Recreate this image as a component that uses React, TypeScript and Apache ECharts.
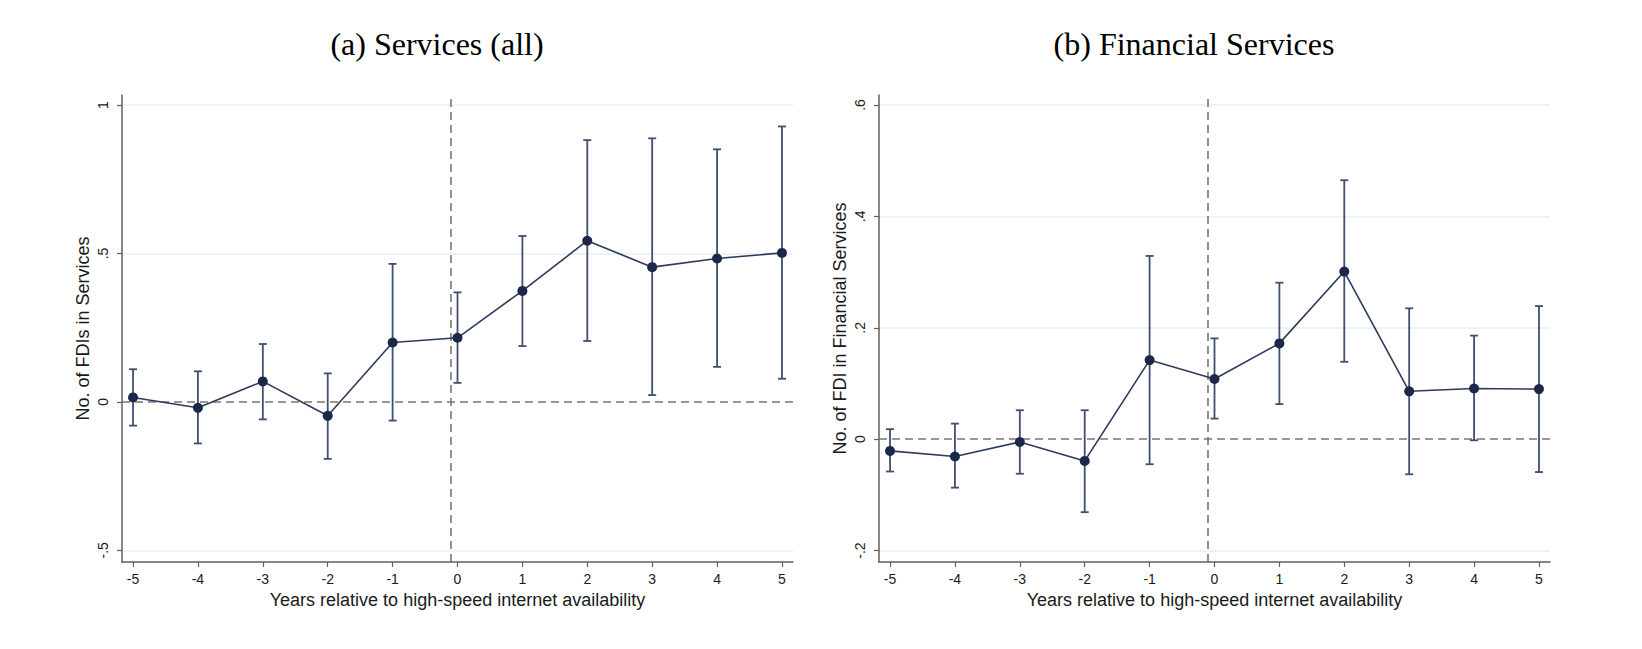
import React, { useEffect, useRef } from "react";
import * as echarts from "echarts";

// ---- Data ----
const years = [-5, -4, -3, -2, -1, 0, 1, 2, 3, 4, 5];

// Panel (a): Services (all)
const servicesEst = [0.015, -0.02, 0.069, -0.047, 0.2, 0.216, 0.374, 0.543, 0.454, 0.483, 0.502];
const servicesLo = [-0.08, -0.14, -0.059, -0.192, -0.063, 0.064, 0.188, 0.205, 0.023, 0.118, 0.078];
const servicesHi = [0.11, 0.103, 0.195, 0.096, 0.465, 0.369, 0.559, 0.882, 0.888, 0.851, 0.928];

// Panel (b): Financial Services
const financialEst = [-0.021, -0.031, -0.005, -0.039, 0.142, 0.108, 0.172, 0.301, 0.086, 0.091, 0.09];
const financialLo = [-0.058, -0.087, -0.062, -0.131, -0.045, 0.037, 0.063, 0.139, -0.063, -0.002, -0.059];
const financialHi = [0.018, 0.028, 0.052, 0.052, 0.329, 0.181, 0.281, 0.465, 0.235, 0.186, 0.239];

const servicesYTicks = [-0.5, 0, 0.5, 1];
const financialYTicks = [-0.2, 0, 0.2, 0.4, 0.6];

const titles = ["(a) Services (all)", "(b) Financial Services"];
const yNames = ["No. of FDIs in Services", "No. of FDI in Financial Services"];
const xName = "Years relative to high-speed internet availability";
const eventLine = -0.1;

// ---- Styles ----
const LINE_COLOR = "#2c3a5c";
const MARKER_COLOR = "#1b2849";
const BAR_COLOR = "#404e70";
const AXIS_COLOR = "#606060";
const GRID_COLOR = "#e6eff1";
const DASH_COLOR = "#777777";
const TEXT_COLOR = "#1a1a1a";
const SANS = "'Liberation Sans', Arial, sans-serif";
const SERIF = "'Liberation Serif', 'Times New Roman', serif";

const fmt = (v: number) => {
  const r = Math.round(v * 10) / 10;
  if (r === 0) return "0";
  let s = String(r);
  s = s.replace(/^0\./, ".").replace(/^-0\./, "-.");
  return s;
};

function errorBarRender(params: any, api: any) {
  const x = api.value(0);
  const lo = api.value(1);
  const hi = api.value(2);
  const p1 = api.coord([x, lo]);
  const p2 = api.coord([x, hi]);
  const cap = 4;
  const style = { stroke: BAR_COLOR, lineWidth: 1.8 };
  return {
    type: "group",
    children: [
      { type: "line", shape: { x1: p1[0], y1: p1[1], x2: p2[0], y2: p2[1] }, style },
      { type: "line", shape: { x1: p1[0] - cap, y1: p1[1], x2: p1[0] + cap, y2: p1[1] }, style },
      { type: "line", shape: { x1: p2[0] - cap, y1: p2[1], x2: p2[0] + cap, y2: p2[1] }, style },
    ],
  };
}

export default function App() {
  const ref = useRef<HTMLDivElement>(null);

  useEffect(() => {
    document.body.style.margin = "0";
    if (!ref.current) return;
    const chart = echarts.init(ref.current, null, { renderer: "svg" });

    const grids = [
      { left: 122, top: 95, width: 671, height: 467 },
      { left: 879, top: 95, width: 671, height: 467 },
    ];
    const yRanges = [
      { min: -0.5395, max: 1.034, ticks: servicesYTicks },
      { min: -0.2205, max: 0.618, ticks: financialYTicks },
    ];
    const panels = [
      { est: servicesEst, lo: servicesLo, hi: servicesHi },
      { est: financialEst, lo: financialLo, hi: financialHi },
    ];

    const xAxis = grids.map((_, i) => ({
      type: "value",
      gridIndex: i,
      min: -5.17,
      max: 5.17,
      name: xName,
      nameLocation: "middle",
      nameGap: 27,
      nameTextStyle: { fontFamily: SANS, fontSize: 18, color: TEXT_COLOR },
      axisLine: { show: true, onZero: false, lineStyle: { color: AXIS_COLOR, width: 1.5 } },
      axisTick: { show: true, length: 5, customValues: years, lineStyle: { color: AXIS_COLOR, width: 1.2 } },
      axisLabel: {
        customValues: years,
        fontFamily: SANS,
        fontSize: 14,
        color: TEXT_COLOR,
        margin: 10,
        formatter: (v: number) => String(v),
      },
      splitLine: { show: false },
    }));

    const yAxis = grids.map((_, i) => ({
      type: "value",
      gridIndex: i,
      min: yRanges[i].min,
      max: yRanges[i].max,
      name: yNames[i],
      nameLocation: "middle",
      nameRotate: 90,
      nameGap: 30,
      nameTextStyle: { fontFamily: SANS, fontSize: 18, color: TEXT_COLOR },
      axisLine: { show: true, onZero: false, lineStyle: { color: AXIS_COLOR, width: 1.5 } },
      axisTick: { show: true, length: 5, customValues: yRanges[i].ticks, lineStyle: { color: AXIS_COLOR, width: 1.2 } },
      axisLabel: {
        customValues: yRanges[i].ticks,
        rotate: 90,
        fontFamily: SANS,
        fontSize: 14,
        color: TEXT_COLOR,
        margin: 12,
        formatter: (v: number) => fmt(v),
      },
      splitLine: { show: false },
    }));

    const series: any[] = [];
    panels.forEach((p, i) => {
      series.push({
        type: "custom",
        xAxisIndex: i,
        yAxisIndex: i,
        z: 1,
        renderItem: errorBarRender,
        encode: { x: 0, y: [1, 2] },
        data: years.map((y, k) => [y, p.lo[k], p.hi[k]]),
        silent: true,
      });
      series.push({
        type: "line",
        xAxisIndex: i,
        yAxisIndex: i,
        z: 3,
        data: years.map((y, k) => [y, p.est[k]]),
        symbol: "circle",
        symbolSize: 10,
        itemStyle: { color: MARKER_COLOR },
        lineStyle: { color: LINE_COLOR, width: 1.6 },
        markLine: {
          silent: true,
          symbol: "none",
          label: { show: false },
          z: 0,
          data: [
            ...yRanges[i].ticks
              .filter((t) => t !== 0)
              .map((t) => ({ yAxis: t, lineStyle: { color: GRID_COLOR, width: 1.5, type: "solid" } })),
            { yAxis: 0, lineStyle: { color: DASH_COLOR, width: 1.6, type: [8, 5] } },
            { xAxis: eventLine, lineStyle: { color: DASH_COLOR, width: 1.6, type: [8, 5] } },
          ],
        },
      });
    });

    chart.setOption({
      animation: false,
      backgroundColor: "#ffffff",
      title: [
        {
          text: titles[0],
          left: 432,
          top: 23,
          textAlign: "center",
          textStyle: { fontFamily: SERIF, fontWeight: "normal", fontSize: 32, color: "#000" },
        },
        {
          text: titles[1],
          left: 1189,
          top: 23,
          textAlign: "center",
          textStyle: { fontFamily: SERIF, fontWeight: "normal", fontSize: 32, color: "#000" },
        },
      ],
      grid: grids,
      xAxis,
      yAxis,
      series,
    });

    return () => chart.dispose();
  }, []);

  return <div ref={ref} style={{ width: 1642, height: 649 }} />;
}
